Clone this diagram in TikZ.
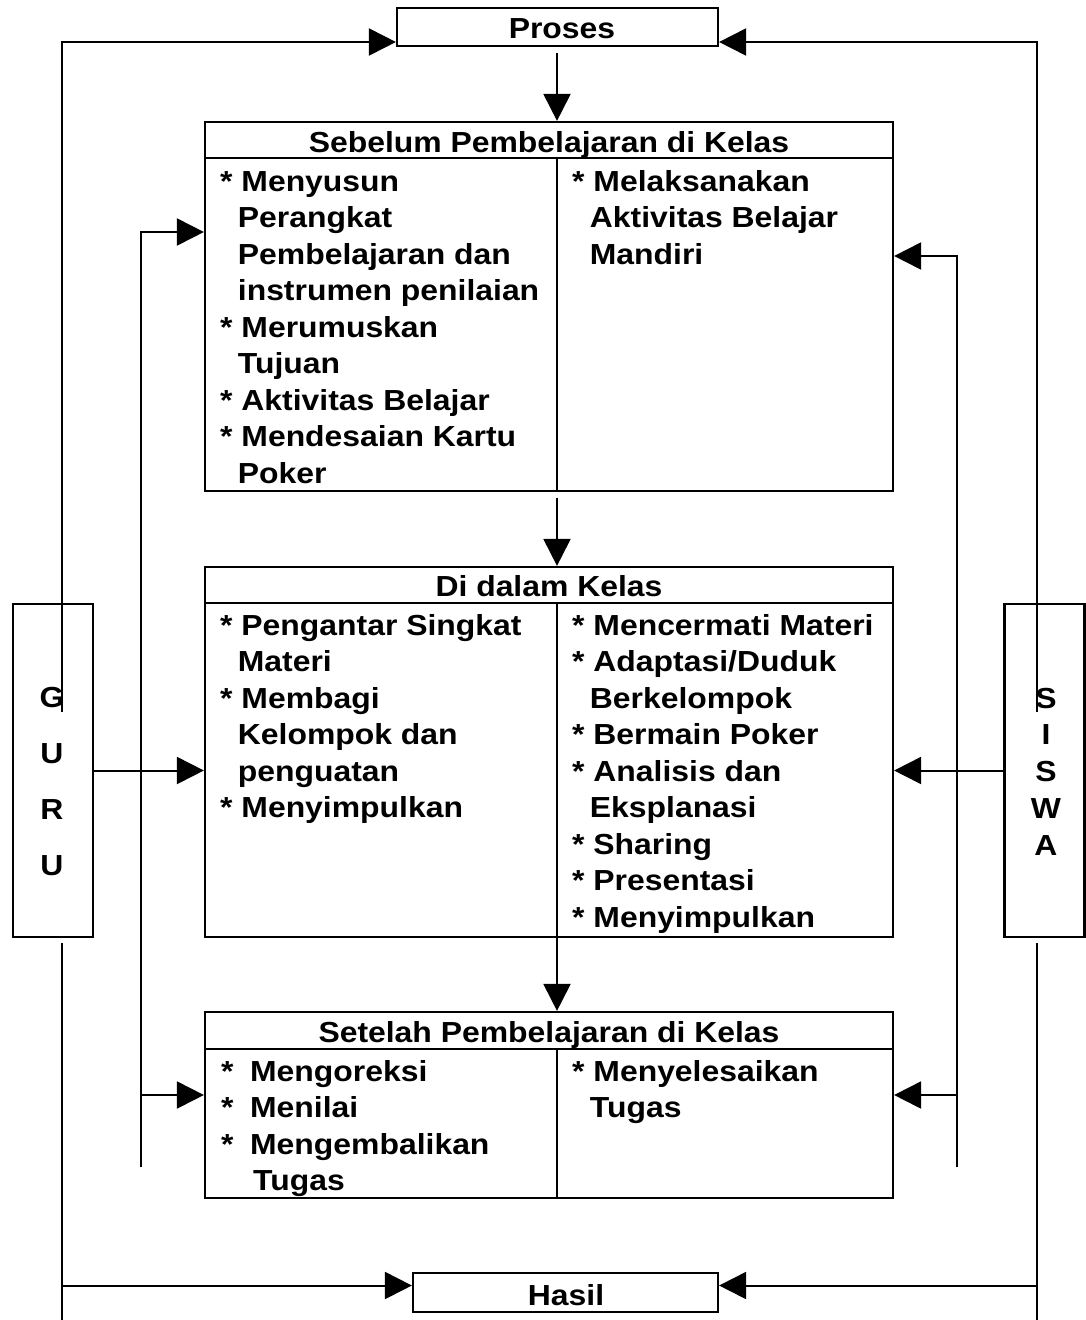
\documentclass[tikz,border=0pt]{standalone}
\usepackage{fontspec}
\setmainfont[FakeStretch=1.1]{Liberation Sans}
\usetikzlibrary{arrows.meta}
\newcommand{\ind}{\hspace*{17.7pt}}
\newcommand{\bul}{\relax*}
\newcommand{\mycol}[1]{\begin{minipage}[t]{330pt}\bfseries\fontsize{29}{36.5}\selectfont\raggedright #1\end{minipage}}
\begin{document}
\begin{tikzpicture}[x=1pt,y=-1pt,
  box/.style={draw, line width=2.2pt, inner sep=0pt},
  rule/.style={line width=2.2pt},
  conn/.style={line width=2pt},
  arr/.style={conn, -{Triangle[length=27pt,width=27pt]}},
  hdr/.style={anchor=base, inner sep=0pt, font=\bfseries\fontsize{29}{36.5}\selectfont},
  col/.style={anchor=base west, inner sep=0pt},
  stack/.style={inner sep=0pt, align=center},
]
\useasboundingbox (0,0) rectangle (1086,1320);
\fill[white] (0,0) rectangle (1086,1320);

% boxes
\node[box, minimum width=321pt, minimum height=38pt] (proses) at (557.5,27) {};
\node[box, minimum width=688pt, minimum height=369pt] (seb) at (549,306.5) {};
\node[box, minimum width=688pt, minimum height=370pt] (did) at (549,752) {};
\node[box, minimum width=688pt, minimum height=186pt] (set) at (549,1105) {};
\node[box, minimum width=305pt, minimum height=39pt] (hasil) at (565.5,1292.5) {};
\node[box, minimum width=80pt, minimum height=333pt] (guru) at (53,770.5) {};
\node[box, minimum width=80pt, minimum height=333pt] (siswa) at (1044.5,770.5) {};

\coordinate (dv) at (557,0);

% header rules and dividers
\draw[rule] ([yshift=-37pt]seb.north west) -- ([yshift=-37pt]seb.north east);
\draw[rule] ([yshift=-37pt]seb.north -| dv) -- (seb.south -| dv);
\draw[rule] ([yshift=-37pt]did.north west) -- ([yshift=-37pt]did.north east);
\draw[rule] ([yshift=-37pt]did.north -| dv) -- (did.south -| dv);
\draw[rule] ([yshift=-38pt]set.north west) -- ([yshift=-38pt]set.north east);
\draw[rule] ([yshift=-38pt]set.north -| dv) -- (set.south -| dv);

% texts
\node[hdr] (tproses) at (562,38.5) {Proses};
\node[hdr] (thasil) at (566,1305) {Hasil};
\node[hdr] (tseb) at (549,152) {Sebelum Pembelajaran di Kelas};
\node[hdr] (tdid) at (549,596.5) {Di dalam Kelas};
\node[hdr] (tset) at (549,1042) {Setelah Pembelajaran di Kelas};

\node[col] (sebL) at (220,191) {\mycol{\bul{} Menyusun\\\ind Perangkat\\\ind Pembelajaran dan\\\ind instrumen penilaian\\\bul{} Merumuskan\\\ind Tujuan\\\bul{} Aktivitas Belajar\\\bul{} Mendesaian Kartu\\\ind Poker}};
\node[col] (sebR) at (572,191) {\mycol{\bul{} Melaksanakan\\\ind Aktivitas Belajar\\\ind Mandiri}};
\node[col] (didL) at (220,635) {\mycol{\bul{} Pengantar Singkat\\\ind Materi\\\bul{} Membagi\\\ind Kelompok dan\\\ind penguatan\\\bul{} Menyimpulkan}};
\node[col] (didR) at (572,635) {\mycol{\bul{} Mencermati Materi\\\bul{} Adaptasi/Duduk\\\ind Berkelompok\\\bul{} Bermain Poker\\\bul{} Analisis dan\\\ind Eksplanasi\\\bul{} Sharing\\\bul{} Presentasi\\\bul{} Menyimpulkan}};
\node[col] (setL) at (221,1081) {\mycol{\makebox[29pt][l]{*}Mengoreksi\\\makebox[29pt][l]{*}Menilai\\\makebox[29pt][l]{*}Mengembalikan\\\hspace*{32pt}Tugas}};
\node[col] (setR) at (572,1081) {\mycol{\bul{} Menyelesaikan\\\ind Tugas}};

\node[stack, font=\bfseries\fontsize{29}{55.7}\selectfont] (tguru) at (52,781.5) {G\\U\\R\\U};
\node[stack, font=\bfseries\fontsize{29}{36.75}\selectfont] (tsiswa) at (1046,771.5) {S\\I\\S\\W\\A};

% outer connectors
\coordinate (gt) at (62,712);
\coordinate (st) at (1037,712);
\coordinate (gb) at (62,1320);
\coordinate (sb) at (1037,1320);
\coordinate (gh) at (62,1285.5);
\coordinate (sh) at (1037,1285.5);
\draw[arr] (gt) |- ([yshift=-15pt]proses.west);
\draw[arr] (st) |- ([yshift=-15pt]proses.east);
\draw[conn] ([yshift=-5pt]guru.south -| gt) -- (gb);
\draw[conn] ([yshift=-5pt]siswa.south -| st) -- (sb);
\draw[arr] (gh) -- (gh -| hasil.west);
\draw[arr] (sh) -- (sh -| hasil.east);

% flow arrows
\draw[arr, shorten <=6pt] (proses.south -| dv) -- (seb.north -| dv);
\draw[arr, shorten <=6pt] (seb.south -| dv) -- (did.north -| dv);
\draw[arr] (did.south -| dv) -- (set.north -| dv);

% inner connectors
\coordinate (lt) at (141,232);
\coordinate (lb) at (141,1167);
\coordinate (lm) at (141,1095);
\coordinate (rt) at (957,256);
\coordinate (rb) at (957,1167);
\coordinate (rm) at (957,1095);
\draw[arr] (lb) |- (lt -| seb.west);
\draw[arr] (lm) -- (lm -| set.west);
\draw[arr] (rb) |- (rt -| seb.east);
\draw[arr] (rm) -- (rm -| set.east);
\draw[arr] (guru.east) -- (guru.east -| did.west);
\draw[arr] (siswa.west) -- (siswa.west -| did.east);
\end{tikzpicture}
\end{document}
